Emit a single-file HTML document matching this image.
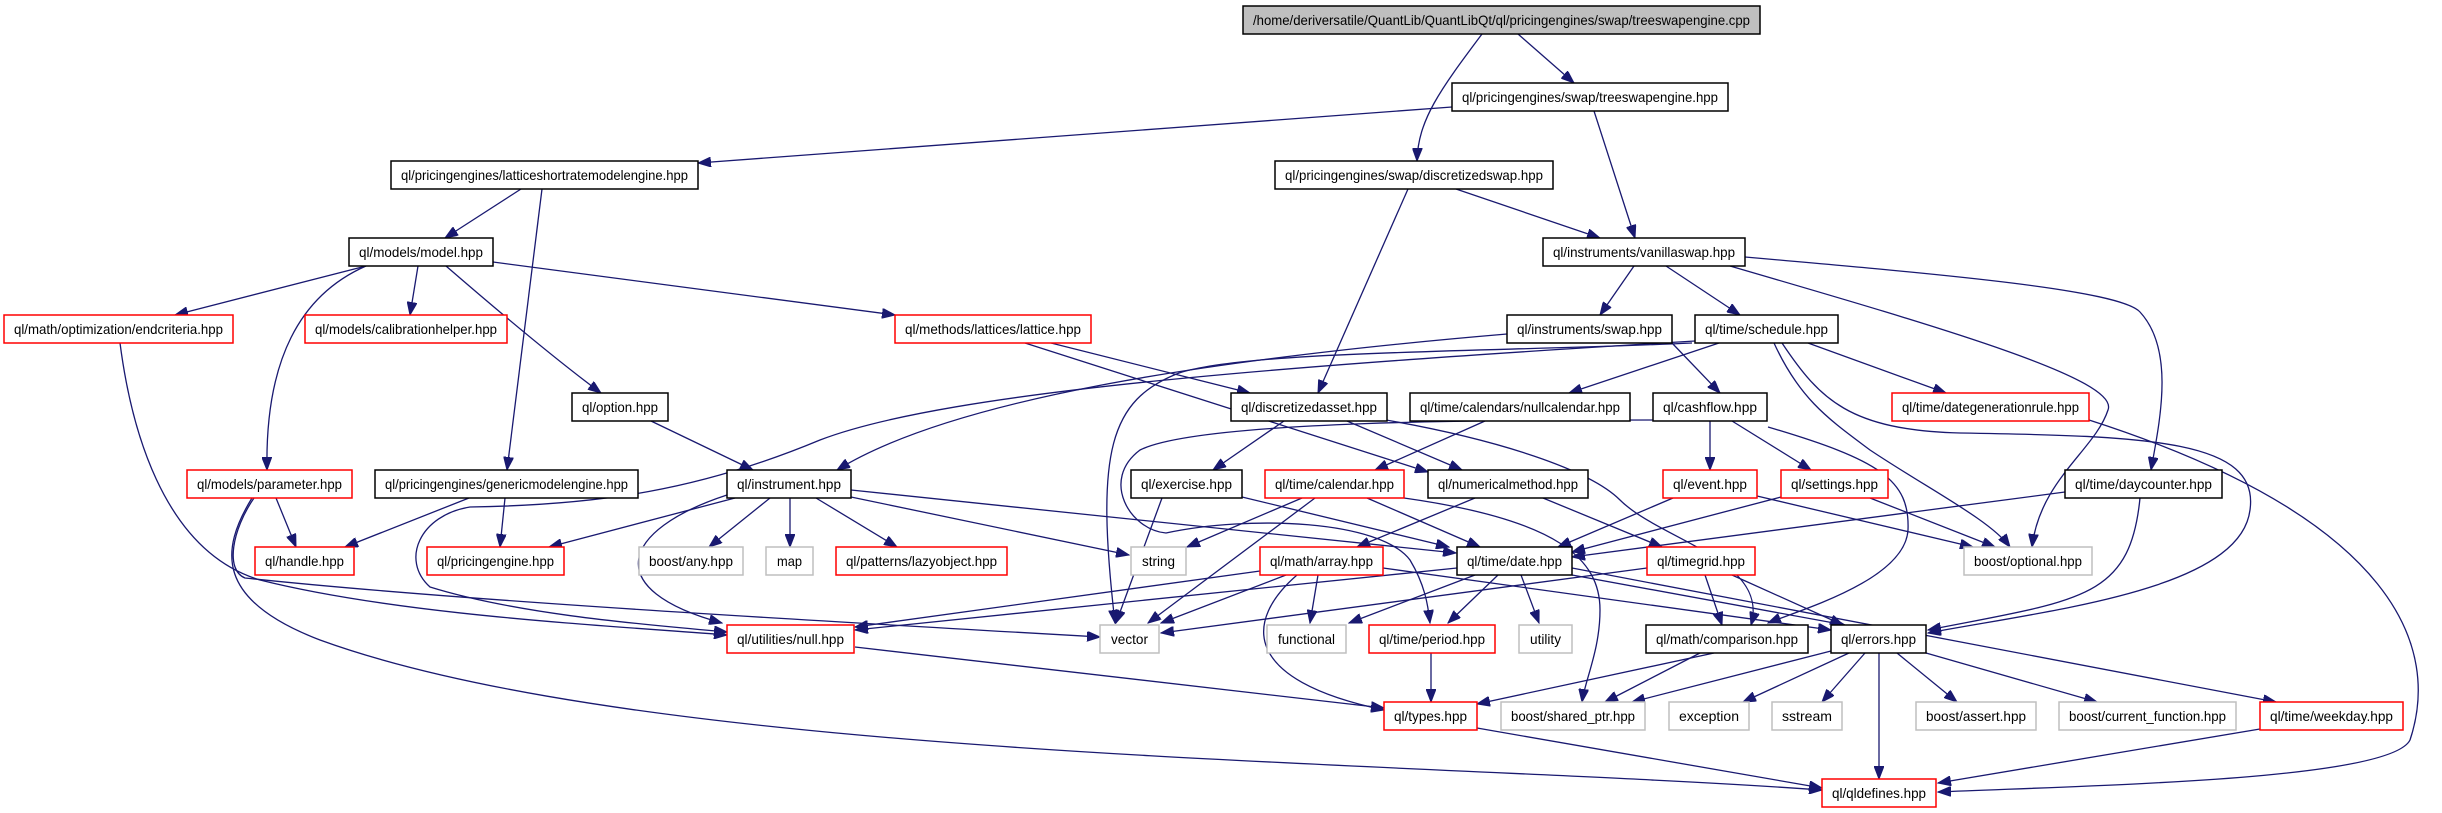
<!DOCTYPE html>
<html><head><meta charset="utf-8"><style>
html,body{margin:0;padding:0;background:#fff;}
svg{display:block;}
text{font-family:"Liberation Sans",sans-serif;font-size:14px;fill:#000;}
.b{fill:#fff;stroke:#000;stroke-width:1.5;}
.r{fill:#fff;stroke:#ff0000;stroke-width:1.5;}
.g{fill:#fff;stroke:#bfbfbf;stroke-width:1.5;}
.e{fill:none;stroke:#191970;stroke-width:1.3;marker-end:url(#a);}
</style></head><body>
<svg width="2442" height="813" viewBox="0 0 2442 813" xmlns="http://www.w3.org/2000/svg">
<defs><marker id="a" markerUnits="userSpaceOnUse" markerWidth="14" markerHeight="10" refX="13" refY="5" orient="auto"><path d="M0,0 L13,5 L0,10 z" fill="#191970" stroke="#191970"/></marker></defs>
<g>
<path class="e" d="M1518,34 L1574,83"/>
<path class="e" d="M1482,34 C1440,90 1418,120 1417,161"/>
<path class="e" d="M1452,107 L698,163"/>
<path class="e" d="M1594,111 L1635,238"/>
<path class="e" d="M521,189 L445,238"/>
<path class="e" d="M542,189 L507,470"/>
<path class="e" d="M1456,189 L1600,238"/>
<path class="e" d="M1408,189 L1318,393"/>
<path class="e" d="M366,266 L175,315"/>
<path class="e" d="M418,266 L410,315"/>
<path class="e" d="M366,266 C300,295 265,360 267,470"/>
<path class="e" d="M446,266 C520,330 570,370 601,393"/>
<path class="e" d="M493,262 L895,315"/>
<path class="e" d="M1634,266 L1600,315"/>
<path class="e" d="M1666,266 L1740,315"/>
<path class="e" d="M1730,266 C1950,330 2120,380 2108,410 C2095,450 2040,480 2032,547"/>
<path class="e" d="M1745,257 C1950,275 2120,290 2140,312 C2175,350 2160,420 2151,470"/>
<path class="e" d="M1782,343 C1820,400 1850,430 1960,433 C2150,436 2260,440 2250,510 C2240,590 2050,610 1928,633"/>
<path class="e" d="M1774,343 C1800,400 1830,420 1870,450 C1930,490 1990,520 2010,547"/>
<path class="e" d="M1808,343 L1946,393"/>
<path class="e" d="M1719,343 L1569,393"/>
<path class="e" d="M1695,341 C1300,365 950,390 820,440 C700,490 600,505 470,507 C420,515 400,560 430,587 C520,615 650,625 727,632"/>
<path class="e" d="M1692,343 C1500,352 1250,350 1179,373 C1110,400 1095,450 1115,623"/>
<path class="e" d="M1507,334 C1200,360 950,400 837,470"/>
<path class="e" d="M1672,343 L1720,393"/>
<path class="e" d="M1051,343 L1250,393"/>
<path class="e" d="M1025,343 L1428,472"/>
<path class="e" d="M1284,421 L1213,470"/>
<path class="e" d="M1347,421 L1462,470"/>
<path class="e" d="M1386,420 C1500,440 1590,470 1620,500 C1660,540 1770,560 1751,625"/>
<path class="e" d="M1485,421 L1375,470"/>
<path class="e" d="M1653,420 C1500,420 1200,420 1140,450 C1100,480 1130,530 1166,533 C1250,515 1380,520 1410,560 C1425,585 1428,605 1430,623"/>
<path class="e" d="M1710,421 L1710,470"/>
<path class="e" d="M1732,421 L1811,470"/>
<path class="e" d="M1768,427 C1880,460 1910,480 1908,530 C1905,580 1800,610 1768,623"/>
<path class="e" d="M651,421 L753,470"/>
<path class="e" d="M851,490 L1456,553"/>
<path class="e" d="M851,497 L1129,555"/>
<path class="e" d="M816,498 L897,547"/>
<path class="e" d="M790,498 L790,547"/>
<path class="e" d="M770,498 L709,547"/>
<path class="e" d="M735,498 L549,547"/>
<path class="e" d="M727,495 C620,530 600,590 722,623"/>
<path class="e" d="M469,498 L345,547"/>
<path class="e" d="M505,498 L500,547"/>
<path class="e" d="M276,498 L296,547"/>
<path class="e" d="M120,343 C130,420 160,550 260,580 C400,615 600,625 727,635"/>
<path class="e" d="M254,498 C232,530 225,570 245,578 C450,600 800,620 1100,637"/>
<path class="e" d="M252,498 C220,550 215,600 320,640 C650,760 1400,760 1822,790"/>
<path class="e" d="M1162,498 L1116,623"/>
<path class="e" d="M1242,497 L1449,547"/>
<path class="e" d="M1302,498 L1187,547"/>
<path class="e" d="M1315,498 L1148,623"/>
<path class="e" d="M1367,498 L1480,547"/>
<path class="e" d="M1404,498 C1560,520 1600,560 1600,610 C1600,650 1585,680 1582,702"/>
<path class="e" d="M1475,498 L1357,547"/>
<path class="e" d="M1543,498 L1662,547"/>
<path class="e" d="M1673,498 L1558,547"/>
<path class="e" d="M1757,496 L1973,547"/>
<path class="e" d="M1781,497 L1572,552"/>
<path class="e" d="M1870,498 L1995,547"/>
<path class="e" d="M2065,492 L1572,557"/>
<path class="e" d="M2140,498 C2130,600 2080,600 1928,630"/>
<path class="e" d="M1705,575 L1722,625"/>
<path class="e" d="M1732,575 L1843,625"/>
<path class="e" d="M1647,568 L1161,633"/>
<path class="e" d="M1383,568 L1831,630"/>
<path class="e" d="M1260,571 L855,627"/>
<path class="e" d="M1286,575 L1161,623"/>
<path class="e" d="M1318,575 L1310,623"/>
<path class="e" d="M1297,575 C1245,620 1240,680 1384,710"/>
<path class="e" d="M1572,568 L2276,702"/>
<path class="e" d="M1572,575 L1845,625"/>
<path class="e" d="M1457,568 L855,630"/>
<path class="e" d="M1475,575 L1349,623"/>
<path class="e" d="M1498,575 L1448,623"/>
<path class="e" d="M1521,575 L1539,623"/>
<path class="e" d="M855,647 L1384,708"/>
<path class="e" d="M1431,653 L1431,702"/>
<path class="e" d="M1714,653 L1477,704"/>
<path class="e" d="M1700,653 L1605,702"/>
<path class="e" d="M1831,651 L1632,702"/>
<path class="e" d="M1849,653 L1743,702"/>
<path class="e" d="M1865,653 L1822,702"/>
<path class="e" d="M1897,653 L1957,702"/>
<path class="e" d="M1926,653 L2097,702"/>
<path class="e" d="M1879,653 L1879,779"/>
<path class="e" d="M2260,729 L1938,783"/>
<path class="e" d="M1477,728 L1822,788"/>
<path class="e" d="M2089,420 C2400,520 2440,650 2410,740 C2390,780 2100,785 1938,792"/>
</g>
<g>
<rect x="1243" y="6" width="517" height="28" fill="#bfbfbf" stroke="#000" stroke-width="1.5"/><text x="1501.5" y="25" text-anchor="middle" textLength="497" lengthAdjust="spacingAndGlyphs">/home/deriversatile/QuantLib/QuantLibQt/ql/pricingengines/swap/treeswapengine.cpp</text>
<rect class="b" x="1452" y="83" width="276" height="28"/><text x="1590" y="102" text-anchor="middle" textLength="256" lengthAdjust="spacingAndGlyphs">ql/pricingengines/swap/treeswapengine.hpp</text>
<rect class="b" x="391" y="161" width="307" height="28"/><text x="544.5" y="180" text-anchor="middle" textLength="287" lengthAdjust="spacingAndGlyphs">ql/pricingengines/latticeshortratemodelengine.hpp</text>
<rect class="b" x="1275" y="161" width="278" height="28"/><text x="1414" y="180" text-anchor="middle" textLength="258" lengthAdjust="spacingAndGlyphs">ql/pricingengines/swap/discretizedswap.hpp</text>
<rect class="b" x="349" y="238" width="144" height="28"/><text x="421" y="257" text-anchor="middle" textLength="124" lengthAdjust="spacingAndGlyphs">ql/models/model.hpp</text>
<rect class="b" x="1543" y="238" width="202" height="28"/><text x="1644" y="257" text-anchor="middle" textLength="182" lengthAdjust="spacingAndGlyphs">ql/instruments/vanillaswap.hpp</text>
<rect class="r" x="4" y="315" width="229" height="28"/><text x="118.5" y="334" text-anchor="middle" textLength="209" lengthAdjust="spacingAndGlyphs">ql/math/optimization/endcriteria.hpp</text>
<rect class="r" x="305" y="315" width="202" height="28"/><text x="406" y="334" text-anchor="middle" textLength="182" lengthAdjust="spacingAndGlyphs">ql/models/calibrationhelper.hpp</text>
<rect class="r" x="895" y="315" width="196" height="28"/><text x="993" y="334" text-anchor="middle" textLength="176" lengthAdjust="spacingAndGlyphs">ql/methods/lattices/lattice.hpp</text>
<rect class="b" x="1507" y="315" width="165" height="28"/><text x="1589.5" y="334" text-anchor="middle" textLength="145" lengthAdjust="spacingAndGlyphs">ql/instruments/swap.hpp</text>
<rect class="b" x="1695" y="315" width="143" height="28"/><text x="1766.5" y="334" text-anchor="middle" textLength="123" lengthAdjust="spacingAndGlyphs">ql/time/schedule.hpp</text>
<rect class="b" x="572" y="393" width="96" height="28"/><text x="620" y="412" text-anchor="middle" textLength="76" lengthAdjust="spacingAndGlyphs">ql/option.hpp</text>
<rect class="b" x="1231" y="393" width="156" height="28"/><text x="1309" y="412" text-anchor="middle" textLength="136" lengthAdjust="spacingAndGlyphs">ql/discretizedasset.hpp</text>
<rect class="b" x="1410" y="393" width="220" height="28"/><text x="1520" y="412" text-anchor="middle" textLength="200" lengthAdjust="spacingAndGlyphs">ql/time/calendars/nullcalendar.hpp</text>
<rect class="b" x="1653" y="393" width="114" height="28"/><text x="1710" y="412" text-anchor="middle" textLength="94" lengthAdjust="spacingAndGlyphs">ql/cashflow.hpp</text>
<rect class="r" x="1892" y="393" width="197" height="28"/><text x="1990.5" y="412" text-anchor="middle" textLength="177" lengthAdjust="spacingAndGlyphs">ql/time/dategenerationrule.hpp</text>
<rect class="r" x="187" y="470" width="165" height="28"/><text x="269.5" y="489" text-anchor="middle" textLength="145" lengthAdjust="spacingAndGlyphs">ql/models/parameter.hpp</text>
<rect class="b" x="375" y="470" width="263" height="28"/><text x="506.5" y="489" text-anchor="middle" textLength="243" lengthAdjust="spacingAndGlyphs">ql/pricingengines/genericmodelengine.hpp</text>
<rect class="b" x="727" y="470" width="124" height="28"/><text x="789" y="489" text-anchor="middle" textLength="104" lengthAdjust="spacingAndGlyphs">ql/instrument.hpp</text>
<rect class="b" x="1131" y="470" width="111" height="28"/><text x="1186.5" y="489" text-anchor="middle" textLength="91" lengthAdjust="spacingAndGlyphs">ql/exercise.hpp</text>
<rect class="r" x="1265" y="470" width="139" height="28"/><text x="1334.5" y="489" text-anchor="middle" textLength="119" lengthAdjust="spacingAndGlyphs">ql/time/calendar.hpp</text>
<rect class="b" x="1428" y="470" width="160" height="28"/><text x="1508" y="489" text-anchor="middle" textLength="140" lengthAdjust="spacingAndGlyphs">ql/numericalmethod.hpp</text>
<rect class="r" x="1663" y="470" width="94" height="28"/><text x="1710" y="489" text-anchor="middle" textLength="74" lengthAdjust="spacingAndGlyphs">ql/event.hpp</text>
<rect class="r" x="1781" y="470" width="107" height="28"/><text x="1834.5" y="489" text-anchor="middle" textLength="87" lengthAdjust="spacingAndGlyphs">ql/settings.hpp</text>
<rect class="b" x="2065" y="470" width="157" height="28"/><text x="2143.5" y="489" text-anchor="middle" textLength="137" lengthAdjust="spacingAndGlyphs">ql/time/daycounter.hpp</text>
<rect class="r" x="255" y="547" width="99" height="28"/><text x="304.5" y="566" text-anchor="middle" textLength="79" lengthAdjust="spacingAndGlyphs">ql/handle.hpp</text>
<rect class="r" x="427" y="547" width="137" height="28"/><text x="495.5" y="566" text-anchor="middle" textLength="117" lengthAdjust="spacingAndGlyphs">ql/pricingengine.hpp</text>
<rect class="g" x="639" y="547" width="104" height="28"/><text x="691" y="566" text-anchor="middle" textLength="84" lengthAdjust="spacingAndGlyphs">boost/any.hpp</text>
<rect class="g" x="766" y="547" width="47" height="28"/><text x="789.5" y="566" text-anchor="middle" textLength="25" lengthAdjust="spacingAndGlyphs">map</text>
<rect class="r" x="836" y="547" width="171" height="28"/><text x="921.5" y="566" text-anchor="middle" textLength="151" lengthAdjust="spacingAndGlyphs">ql/patterns/lazyobject.hpp</text>
<rect class="g" x="1131" y="547" width="55" height="28"/><text x="1158.5" y="566" text-anchor="middle" textLength="33" lengthAdjust="spacingAndGlyphs">string</text>
<rect class="r" x="1260" y="547" width="123" height="28"/><text x="1321.5" y="566" text-anchor="middle" textLength="103" lengthAdjust="spacingAndGlyphs">ql/math/array.hpp</text>
<rect class="b" x="1457" y="547" width="115" height="28"/><text x="1514.5" y="566" text-anchor="middle" textLength="95" lengthAdjust="spacingAndGlyphs">ql/time/date.hpp</text>
<rect class="r" x="1647" y="547" width="108" height="28"/><text x="1701" y="566" text-anchor="middle" textLength="88" lengthAdjust="spacingAndGlyphs">ql/timegrid.hpp</text>
<rect class="g" x="1964" y="547" width="128" height="28"/><text x="2028" y="566" text-anchor="middle" textLength="108" lengthAdjust="spacingAndGlyphs">boost/optional.hpp</text>
<rect class="r" x="727" y="625" width="127" height="28"/><text x="790.5" y="644" text-anchor="middle" textLength="107" lengthAdjust="spacingAndGlyphs">ql/utilities/null.hpp</text>
<rect class="g" x="1100" y="625" width="59" height="28"/><text x="1129.5" y="644" text-anchor="middle" textLength="37" lengthAdjust="spacingAndGlyphs">vector</text>
<rect class="g" x="1267" y="625" width="79" height="28"/><text x="1306.5" y="644" text-anchor="middle" textLength="57" lengthAdjust="spacingAndGlyphs">functional</text>
<rect class="r" x="1369" y="625" width="126" height="28"/><text x="1432" y="644" text-anchor="middle" textLength="106" lengthAdjust="spacingAndGlyphs">ql/time/period.hpp</text>
<rect class="g" x="1519" y="625" width="53" height="28"/><text x="1545.5" y="644" text-anchor="middle" textLength="31" lengthAdjust="spacingAndGlyphs">utility</text>
<rect class="b" x="1646" y="625" width="162" height="28"/><text x="1727" y="644" text-anchor="middle" textLength="142" lengthAdjust="spacingAndGlyphs">ql/math/comparison.hpp</text>
<rect class="b" x="1831" y="625" width="95" height="28"/><text x="1878.5" y="644" text-anchor="middle" textLength="75" lengthAdjust="spacingAndGlyphs">ql/errors.hpp</text>
<rect class="r" x="1384" y="702" width="93" height="28"/><text x="1430.5" y="721" text-anchor="middle" textLength="73" lengthAdjust="spacingAndGlyphs">ql/types.hpp</text>
<rect class="g" x="1501" y="702" width="144" height="28"/><text x="1573" y="721" text-anchor="middle" textLength="124" lengthAdjust="spacingAndGlyphs">boost/shared_ptr.hpp</text>
<rect class="g" x="1669" y="702" width="80" height="28"/><text x="1709" y="721" text-anchor="middle" textLength="60" lengthAdjust="spacingAndGlyphs">exception</text>
<rect class="g" x="1772" y="702" width="70" height="28"/><text x="1807" y="721" text-anchor="middle" textLength="50" lengthAdjust="spacingAndGlyphs">sstream</text>
<rect class="g" x="1916" y="702" width="120" height="28"/><text x="1976" y="721" text-anchor="middle" textLength="100" lengthAdjust="spacingAndGlyphs">boost/assert.hpp</text>
<rect class="g" x="2059" y="702" width="177" height="28"/><text x="2147.5" y="721" text-anchor="middle" textLength="157" lengthAdjust="spacingAndGlyphs">boost/current_function.hpp</text>
<rect class="r" x="2260" y="702" width="143" height="28"/><text x="2331.5" y="721" text-anchor="middle" textLength="123" lengthAdjust="spacingAndGlyphs">ql/time/weekday.hpp</text>
<rect class="r" x="1822" y="779" width="114" height="28"/><text x="1879" y="798" text-anchor="middle" textLength="94" lengthAdjust="spacingAndGlyphs">ql/qldefines.hpp</text>
</g>
</svg>
</body></html>
